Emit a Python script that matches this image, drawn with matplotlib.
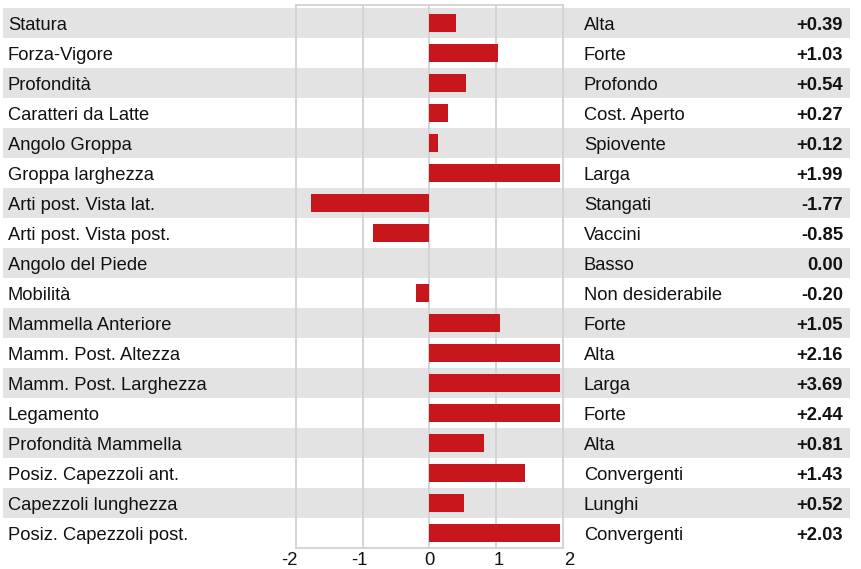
import numpy as np
import matplotlib
matplotlib.use("Agg")
import matplotlib.pyplot as plt

plt.rcParams['font.family'] = ['Liberation Sans', 'DejaVu Sans']

traits = ["Statura", "Forza-Vigore", "Profondità", "Caratteri da Latte",
          "Angolo Groppa", "Groppa larghezza", "Arti post. Vista lat.",
          "Arti post. Vista post.", "Angolo del Piede", "Mobilità",
          "Mammella Anteriore", "Mamm. Post. Altezza", "Mamm. Post. Larghezza",
          "Legamento", "Profondità Mammella", "Posiz. Capezzoli ant.",
          "Capezzoli lunghezza", "Posiz. Capezzoli post."]
desc = ["Alta", "Forte", "Profondo", "Cost. Aperto", "Spiovente", "Larga",
        "Stangati", "Vaccini", "Basso", "Non desiderabile", "Forte", "Alta",
        "Larga", "Forte", "Alta", "Convergenti", "Lunghi", "Convergenti"]
values = [0.39, 1.03, 0.54, 0.27, 0.12, 1.99, -1.77, -0.85, 0.00, -0.20,
          1.05, 2.16, 3.69, 2.44, 0.81, 1.43, 0.52, 2.03]
xticks = [-2, -1, 0, 1, 2]

W, H = 862, 569
n = len(traits)
rows = np.arange(n)
red = "#c8161d"
band = "#e3e3e3"
gridc = "#d2d2d2"
txt = "#111111"
fs = 13.2
base = 0.24  # baseline offset within a row

fig = plt.figure(figsize=(W / 100, H / 100), dpi=100)

# background with alternating bands and text
bg = fig.add_axes([0, 0, 1, 1])
bg.set_xlim(0, W)
bg.set_ylim(n - 0.5 + 21.5 / 30, -0.5 - 7.5 / 30)
bg.axis("off")
for i in rows:
    if i % 2 == 0:
        bg.axhspan(i - 0.5, i + 0.5, xmin=3 / W, xmax=850 / W, color=band, lw=0)
    bg.text(8, i + base, traits[i], va="baseline", ha="left", fontsize=fs, color=txt)
    bg.text(584, i + base, desc[i], va="baseline", ha="left", fontsize=fs, color=txt)
    v = values[i]
    lab = "0.00" if v == 0 else f"{v:+.2f}"
    bg.text(843, i + base, lab, va="baseline", ha="right", fontsize=fs,
            fontweight="bold", color=txt)

# bars
ax = fig.add_axes([296 / W, (H - 547.5) / H, 267 / W, 542.5 / H])
ax.patch.set_alpha(0)
ax.set_xlim(-2, 2)
ax.set_ylim(n - 0.5, -0.5 - 2.5 / 30)
for x in [-1, 0, 1]:
    ax.axvline(x, color=gridc, lw=1.3, zorder=1)
shown = np.clip(values, -1.955, 1.955)
ax.barh(rows, shown, height=0.6, color=red, zorder=2)
ax.set_xticks([])
ax.set_yticks([])
for s in ax.spines.values():
    s.set_color(gridc)
    s.set_linewidth(1.3)

# tick labels
tx = fig.add_axes([289 / W, (H - 547.5) / H, 280 / W, 0.001])
tx.patch.set_alpha(0)
tx.set_xlim(-2, 2)
tx.set_xticks(xticks)
tx.set_xticklabels([str(t) for t in xticks], fontsize=fs, color=txt)
tx.tick_params(axis="x", length=0, pad=3)
tx.set_yticks([])
for s in tx.spines.values():
    s.set_visible(False)

fig.savefig("out.png", dpi=100)
